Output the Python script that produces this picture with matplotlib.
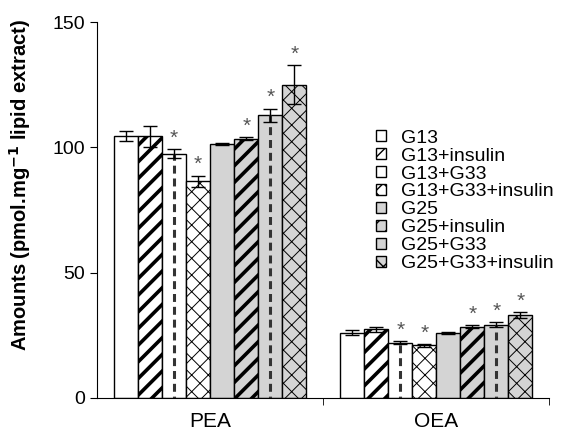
import numpy as np
import matplotlib
matplotlib.use('Agg')
import matplotlib.pyplot as plt

plt.rcParams['font.family'] = ['Liberation Sans', 'DejaVu Sans']
plt.rcParams['hatch.color'] = 'black'

categories = ['PEA', 'OEA']
groups = ['G13', 'G13+insulin', 'G13+G33', 'G13+G33+insulin',
          'G25', 'G25+insulin', 'G25+G33', 'G25+G33+insulin']

# values [PEA, OEA] per group
means = [[104.5, 26.0], [104.5, 27.5], [97.5, 22.0], [86.5, 21.0],
         [101.3, 26.0], [103.5, 28.5], [112.8, 29.2], [125.0, 33.0]]
errs = [[1.9, 1.0], [4.2, 1.0], [1.7, 0.6], [2.2, 0.5],
        [0.5, 0.5], [0.5, 0.6], [2.6, 1.0], [7.8, 1.3]]
signif = [[False, False], [False, False], [True, True], [True, True],
          [False, False], [True, True], [True, True], [True, True]]

faces = ['white'] * 4 + ['#d4d4d4'] * 4
styles = ['plain', 'diag', 'dash', 'brick'] * 2

fig = plt.figure(figsize=(5.68, 4.33), dpi=100)
ax = fig.add_axes([0.171, 0.081, 0.796, 0.868])

x = np.arange(len(categories))
w = 0.85 / len(groups)
for i, g in enumerate(groups):
    pos = x - 0.425 + w * (i + 0.5)
    hatch = {'plain': None, 'diag': '//', 'dash': None, 'brick': 'xx'}[styles[i]]
    bars = ax.bar(pos, means[i], w, color=faces[i], edgecolor='black',
                  linewidth=1.0, hatch=hatch, label=g, zorder=2)
    for b in bars:
        if styles[i] == 'diag' and hasattr(b, 'set_hatch_linewidth'):
            b.set_hatch_linewidth(2.6)
        if styles[i] == 'brick' and hasattr(b, 'set_hatch_linewidth'):
            b.set_hatch_linewidth(0.7)
        if styles[i] == 'dash':
            xx = b.get_x() + b.get_width() * 0.5
            ln, = ax.plot([xx, xx], [0, b.get_height()], color='#333333',
                          lw=2.2, ls=(2, (2.6, 1.6)), zorder=3)
            ln.set_clip_path(b)
    ax.errorbar(pos, means[i], yerr=errs[i], fmt='none', ecolor='black',
                elinewidth=1.0, capsize=5, capthick=1.0, zorder=4)
    for j in range(len(categories)):
        if signif[i][j]:
            ax.text(pos[j], means[i][j] + errs[i][j] + 0.6, '*', ha='center',
                    va='bottom', fontsize=15, color='#555555')

ax.set_ylim(0, 150)
ax.set_xlim(-0.5, 1.5)
ax.set_yticks([0, 50, 100, 150])
ax.set_xticks(x)
ax.set_xticklabels(categories)
ax.set_xticks([0.5, 1.5], minor=True)
ax.tick_params(axis='x', which='major', length=0, labelsize=15, pad=10)
ax.tick_params(axis='x', which='minor', length=5, direction='out')
ax.tick_params(axis='y', labelsize=14, length=5, direction='out')
for s in ['top', 'right']:
    ax.spines[s].set_visible(False)
ax.set_ylabel(r'Amounts (pmol.mg$^{\mathbf{-1}}$ lipid extract)',
              fontsize=14.5, fontweight='bold')
ax.yaxis.set_label_coords(-0.142, 0.566)

ax.legend(loc='upper left', bbox_to_anchor=(0.617, 0.714), frameon=False,
          fontsize=14, handlelength=0.5, handleheight=0.5, labelspacing=0.05,
          handletextpad=0.8, borderpad=0, borderaxespad=0)

fig.savefig('out.png', dpi=100)
